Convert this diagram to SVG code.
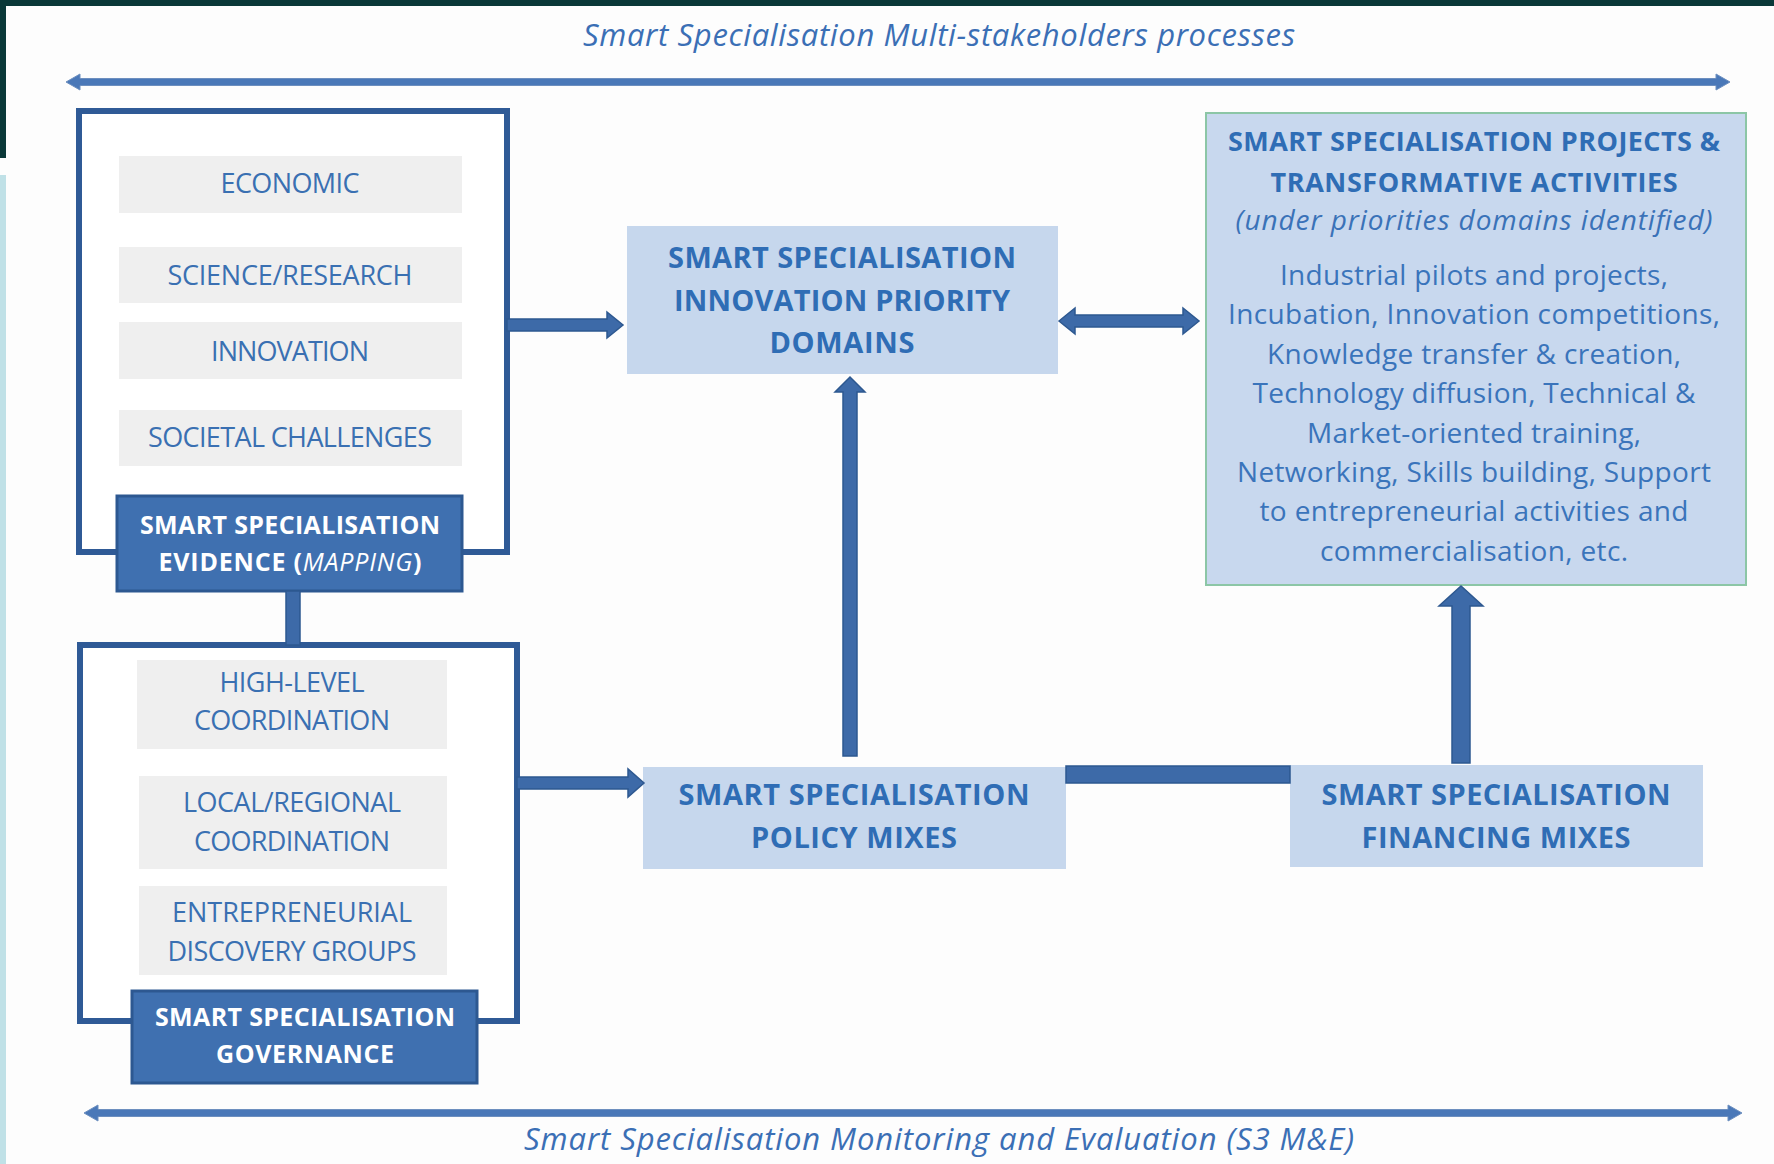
<svg xmlns="http://www.w3.org/2000/svg" width="1774" height="1164" viewBox="0 0 1774 1164">
<style>
text{font-family:"Open Sans","Liberation Sans",sans-serif;text-anchor:middle}
.ttl{font-size:31px;font-style:italic;fill:#3b6fb5}
.lbl{font-size:27px;font-weight:500;fill:#3a70b2}
.wht{font-size:25px;font-weight:700;fill:#ffffff}
.blu{font-size:29px;font-weight:700;fill:#2f6db5}
.pb{font-size:27px;font-weight:700;fill:#2f6db5}
.pi{font-size:28px;font-style:italic;fill:#3a72b8}
.pt{font-size:28px;font-weight:500;fill:#3a74bb}
.outer{fill:#ffffff;stroke:#2f5a96;stroke-width:6}
.grey{fill:#efefef}
.dark{fill:#3f70b0;stroke:#2d5891;stroke-width:3}
.light{fill:#c6d7ed}
.conn{fill:#3d6aa8;stroke:#2d5890;stroke-width:1.5}
.rail{fill:#4a78b8;stroke:#6d8fbf;stroke-width:1}
</style>
<rect x="0" y="0" width="1774" height="1164" fill="#fdfdfd"/>
<rect x="0" y="0" width="1774" height="6" fill="#0a3838"/>
<rect x="0" y="0" width="6" height="158" fill="#0a3838"/>
<rect x="0" y="175" width="6" height="989" fill="#c0e1e7"/>

<g id="top-process">
<text class="ttl" x="939" y="46" textLength="712">Smart Specialisation Multi-stakeholders processes</text>
</g>

<g id="evidence">
<rect class="outer" x="79" y="111" width="428" height="441"/>
<rect class="grey" x="119" y="156" width="343" height="57"/>
<text class="lbl" x="290" y="193" textLength="139">ECONOMIC</text>
<rect class="grey" x="119" y="247" width="343" height="56"/>
<text class="lbl" x="290" y="285" textLength="245">SCIENCE/RESEARCH</text>
<rect class="grey" x="119" y="322" width="343" height="57"/>
<text class="lbl" x="290" y="361" textLength="158">INNOVATION</text>
<rect class="grey" x="119" y="410" width="343" height="56"/>
<text class="lbl" x="290" y="447" textLength="284">SOCIETAL CHALLENGES</text>
<rect class="dark" x="117" y="496" width="345" height="95"/>
<text class="wht" x="290" y="534" textLength="300">SMART SPECIALISATION</text>
<text class="wht" x="290" y="571" textLength="263">EVIDENCE (<tspan font-style="italic" font-weight="400">MAPPING</tspan>)</text>
</g>

<g id="governance">
<rect class="outer" x="80" y="645" width="437" height="376"/>
<rect class="grey" x="137" y="660" width="310" height="89"/>
<text class="lbl" x="292" y="692" textLength="145">HIGH-LEVEL</text>
<text class="lbl" x="292" y="730" textLength="196">COORDINATION</text>
<rect class="grey" x="139" y="776" width="308" height="93"/>
<text class="lbl" x="292" y="812" textLength="218">LOCAL/REGIONAL</text>
<text class="lbl" x="292" y="851" textLength="196">COORDINATION</text>
<rect class="grey" x="139" y="886" width="308" height="89"/>
<text class="lbl" x="292" y="922" textLength="240">ENTREPRENEURIAL</text>
<text class="lbl" x="292" y="961" textLength="249">DISCOVERY GROUPS</text>
<rect class="dark" x="132" y="991" width="345" height="92"/>
<text class="wht" x="305" y="1026" textLength="300">SMART SPECIALISATION</text>
<text class="wht" x="305" y="1063" textLength="178">GOVERNANCE</text>
</g>

<g id="priority-domains">
<rect class="light" x="627" y="226" width="431" height="148"/>
<text class="blu" x="842" y="268" textLength="348">SMART SPECIALISATION</text>
<text class="blu" x="842" y="311" textLength="336">INNOVATION PRIORITY</text>
<text class="blu" x="842" y="353" textLength="145">DOMAINS</text>
</g>

<g id="policy-mixes">
<rect class="light" x="643" y="767" width="423" height="102"/>
<text class="blu" x="854" y="805" textLength="351">SMART SPECIALISATION</text>
<text class="blu" x="854" y="848" textLength="206">POLICY MIXES</text>
</g>

<g id="financing-mixes">
<rect class="light" x="1290" y="765" width="413" height="102"/>
<text class="blu" x="1496" y="805" textLength="349">SMART SPECIALISATION</text>
<text class="blu" x="1496" y="848" textLength="269">FINANCING MIXES</text>
</g>

<g id="projects">
<rect x="1206" y="113" width="540" height="472" fill="#c8d8ee" stroke="#8cc6a6" stroke-width="2"/>
<text class="pb" x="1474" y="151" textLength="492">SMART SPECIALISATION PROJECTS &amp;</text>
<text class="pb" x="1474" y="192" textLength="407">TRANSFORMATIVE ACTIVITIES</text>
<text class="pi" x="1474" y="230" textLength="477">(under priorities domains identified)</text>
<text class="pt" x="1474" y="285" textLength="388">Industrial pilots and projects,</text>
<text class="pt" x="1474" y="324" textLength="492">Incubation, Innovation competitions,</text>
<text class="pt" x="1474" y="364" textLength="414">Knowledge transfer &amp; creation,</text>
<text class="pt" x="1474" y="403" textLength="443">Technology diffusion, Technical &amp;</text>
<text class="pt" x="1474" y="443" textLength="334">Market-oriented training,</text>
<text class="pt" x="1474" y="482" textLength="474">Networking, Skills building, Support</text>
<text class="pt" x="1474" y="521" textLength="429">to entrepreneurial activities and</text>
<text class="pt" x="1474" y="561" textLength="308">commercialisation, etc.</text>
</g>

<g id="monitoring">
<text class="ttl" x="939" y="1150" textLength="830">Smart Specialisation Monitoring and Evaluation (S3 M&amp;E)</text>
</g>

<g id="connectors">
<path class="rail" d="M66,82 L80,74 V78.5 H1716 V74 L1730,82 L1716,90 V85.5 H80 V90 Z"/>
<path class="rail" d="M84,1113 L98,1105 V1109.5 H1728 V1105 L1742,1113 L1728,1121 V1116.5 H98 V1121 Z"/>
<path class="conn" d="M507,319 H607 V312 L623,325 L607,338 V331 H507 Z"/>
<path class="conn" d="M1059,321 L1075,308 V315 H1183 V308 L1199,321 L1183,334 V327 H1075 V334 Z"/>
<path class="conn" d="M843,756 V392 H835 L850,377 L865,392 H857 V756 Z"/>
<path class="conn" d="M517,777 H628 V769 L644,783 L628,797 V789 H517 Z"/>
<rect class="conn" x="1066" y="766" width="224" height="17"/>
<path class="conn" d="M1452,763 V606 H1439 L1461,586 L1483,606 H1470 V763 Z"/>
<rect class="conn" x="286" y="591" width="14" height="54"/>
</g>
</svg>
